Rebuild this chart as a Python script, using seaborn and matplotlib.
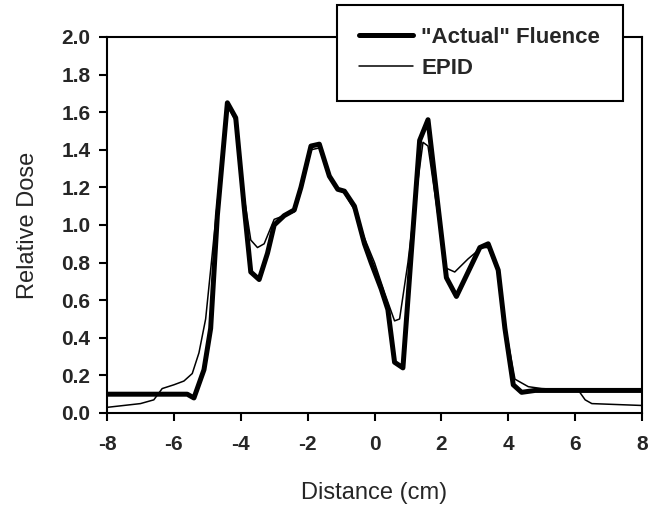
import numpy as np
import pandas as pd
import matplotlib
matplotlib.use("Agg")
import matplotlib.pyplot as plt
import seaborn as sns

# "Actual" fluence profile (thick line)
actual_x = [-8, -5.8, -5.6, -5.4, -5.1, -4.9, -4.7, -4.4, -4.15, -3.9, -3.7, -3.45,
            -3.2, -3.0, -2.7, -2.4, -2.2, -1.9, -1.65, -1.35, -1.1, -0.9, -0.6, -0.3,
            -0.1, 0.2, 0.4, 0.6, 0.85, 1.1, 1.35, 1.6, 1.9, 2.15, 2.45, 2.8, 3.15, 3.4,
            3.7, 3.9, 4.15, 4.4, 4.8, 8]
actual_y = [0.10, 0.10, 0.10, 0.08, 0.23, 0.45, 1.05, 1.65, 1.57, 1.10, 0.75, 0.71,
            0.85, 1.00, 1.05, 1.08, 1.20, 1.42, 1.43, 1.26, 1.19, 1.18, 1.10, 0.90,
            0.80, 0.66, 0.55, 0.27, 0.24, 0.85, 1.45, 1.56, 1.10, 0.72, 0.62, 0.75,
            0.88, 0.90, 0.76, 0.45, 0.15, 0.11, 0.12, 0.12]

# EPID profile (thin line)
epid_x = [-8, -7, -6.6, -6.35, -6.0, -5.7, -5.45, -5.25, -5.05, -4.85, -4.7, -4.4,
          -4.15, -3.9, -3.7, -3.5, -3.3, -3.0, -2.7, -2.4, -2.2, -1.9, -1.65, -1.35,
          -1.1, -0.9, -0.6, -0.3, 0.0, 0.3, 0.6, 0.75, 1.0, 1.2, 1.45, 1.6, 1.9, 2.15,
          2.4, 2.8, 3.2, 3.4, 3.7, 3.9, 4.2, 4.6, 5.0, 6.1, 6.3, 6.5, 8]
epid_y = [0.03, 0.05, 0.07, 0.13, 0.15, 0.17, 0.21, 0.32, 0.50, 0.85, 1.12, 1.64,
          1.55, 1.15, 0.92, 0.88, 0.90, 1.03, 1.05, 1.07, 1.18, 1.40, 1.41, 1.25,
          1.19, 1.17, 1.08, 0.93, 0.80, 0.64, 0.49, 0.50, 0.80, 1.10, 1.44, 1.42,
          1.05, 0.77, 0.75, 0.82, 0.88, 0.88, 0.75, 0.47, 0.18, 0.14, 0.13, 0.12,
          0.07, 0.05, 0.04]

x_ticks = [-8, -6, -4, -2, 0, 2, 4, 6, 8]
y_ticks = [0.0, 0.2, 0.4, 0.6, 0.8, 1.0, 1.2, 1.4, 1.6, 1.8, 2.0]

sns.set_theme(style="ticks")
plt.rcParams['font.family'] = ['Liberation Sans', 'DejaVu Sans']

df_actual = pd.DataFrame({'x': actual_x, 'y': actual_y})
df_epid = pd.DataFrame({'x': epid_x, 'y': epid_y})

fig = plt.figure(figsize=(6.58, 5.08), dpi=100)
ax = fig.add_axes([107 / 658, 1 - 413 / 508, 535 / 658, 376 / 508])

sns.lineplot(data=df_actual, x='x', y='y', ax=ax, color='black', linewidth=3.6,
             label='"Actual" Fluence', sort=False)
sns.lineplot(data=df_epid, x='x', y='y', ax=ax, color='black', linewidth=1.1,
             label='EPID', sort=False)

ax.set_xlim(-8, 8)
ax.set_ylim(0, 2.0)
ax.set_xticks(x_ticks)
ax.set_yticks(y_ticks)
ax.set_xticklabels([str(t) for t in x_ticks], fontsize=15, fontweight='bold')
ax.set_yticklabels([f'{t:.1f}' for t in y_ticks], fontsize=15, fontweight='bold')
ax.tick_params(direction='out', length=6, width=1.5, color='black', pad=6)
ax.tick_params(axis='x', pad=10)
for s in ax.spines.values():
    s.set_color('black')
    s.set_linewidth(1.5)

ax.set_xlabel('Distance (cm)', fontsize=17, labelpad=20)
ax.set_ylabel('Relative Dose', fontsize=17, labelpad=16)

ax.get_legend().remove()
handles, labels = ax.get_legend_handles_labels()
leg = fig.legend(handles, labels, loc='upper left',
                 bbox_to_anchor=(337 / 658, 1 - 5 / 508),
                 frameon=True, fancybox=False, framealpha=1, edgecolor='black',
                 prop={'size': 16, 'weight': 'bold'}, handlelength=2.4,
                 borderpad=1.0, labelspacing=0.45, handletextpad=0.4,
                 borderaxespad=0)
leg.get_frame().set_linewidth(1.5)

fig.savefig('out.png', dpi=100)
